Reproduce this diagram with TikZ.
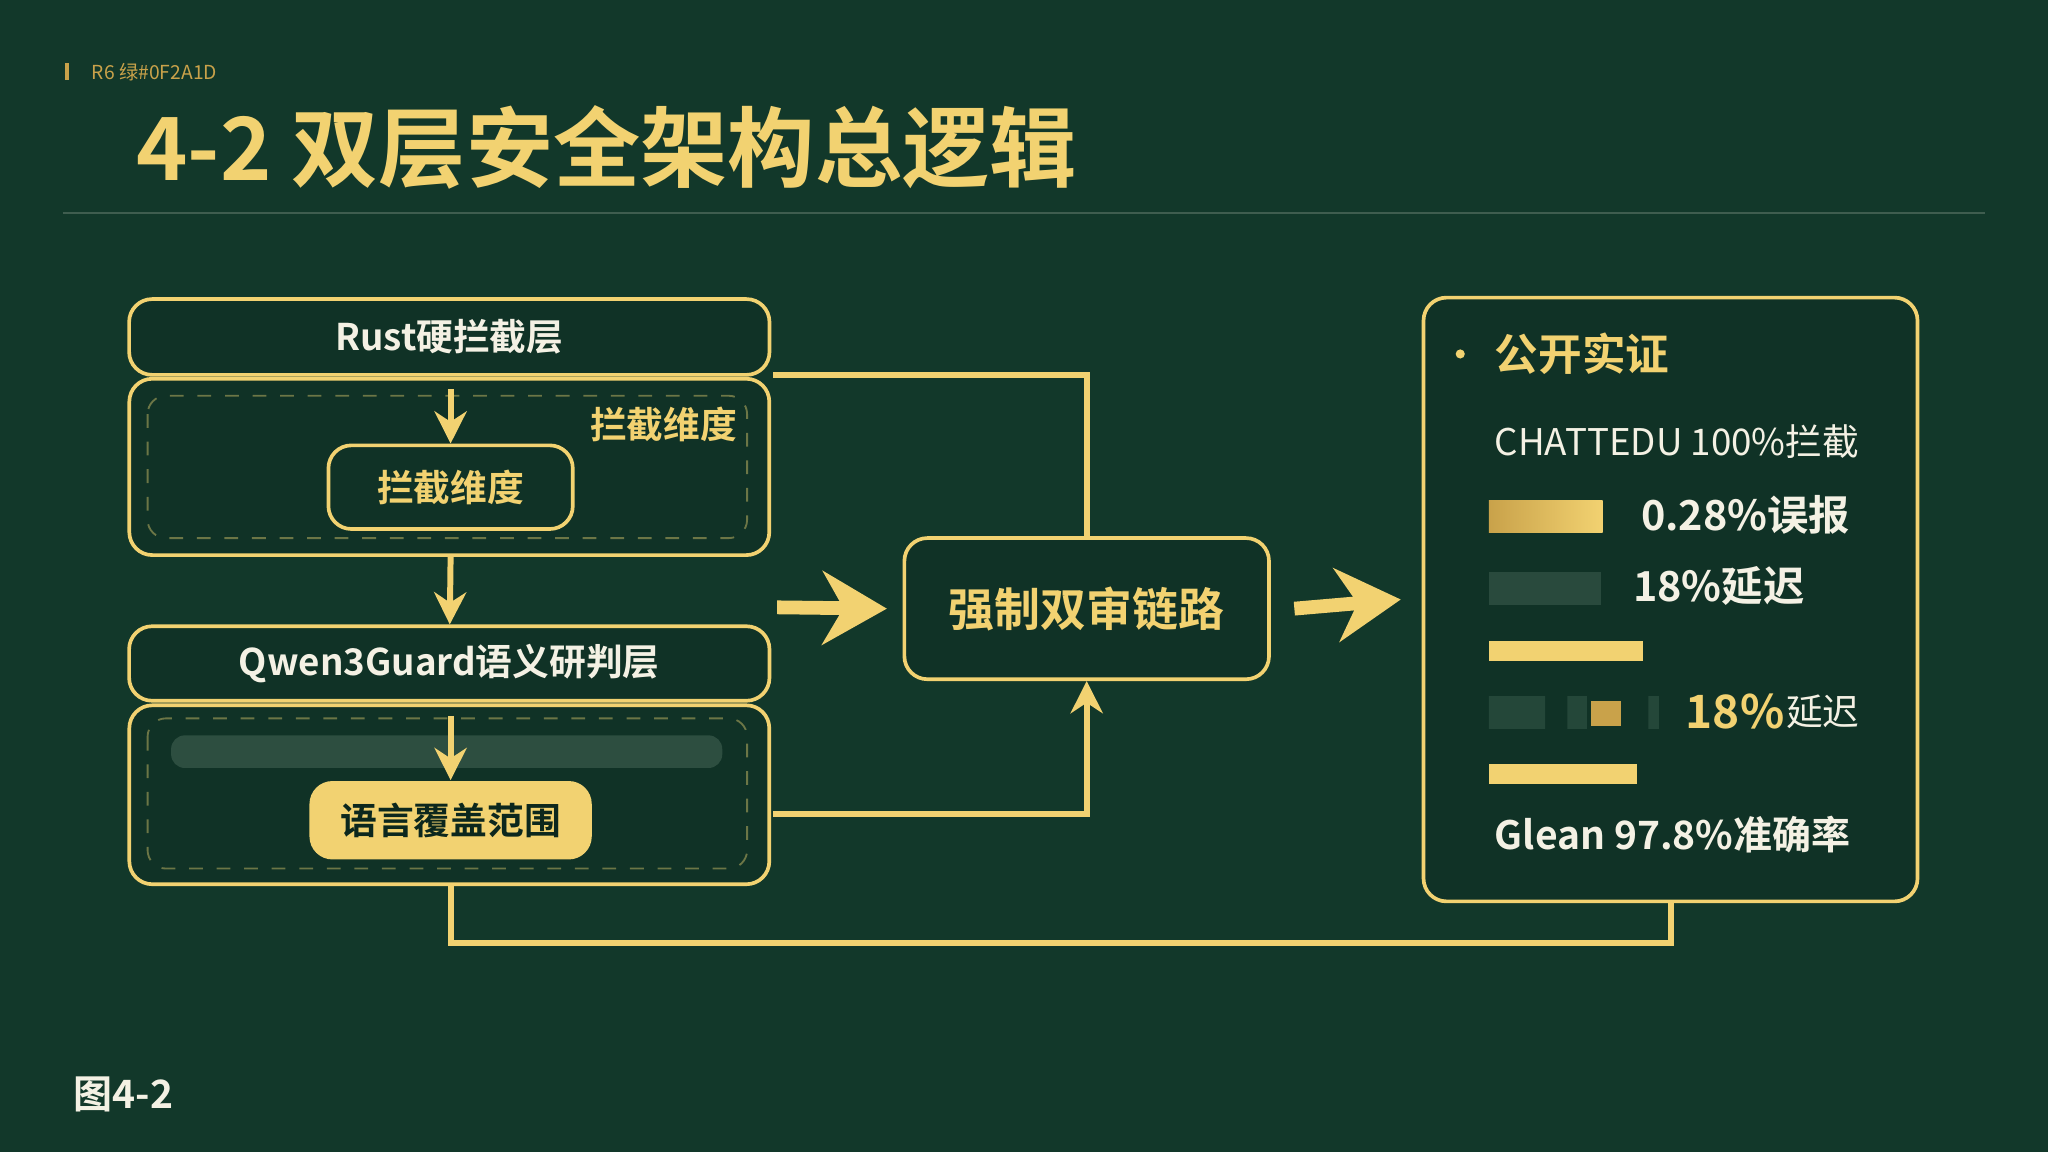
\documentclass[tikz,border=0pt]{standalone}
\usepackage{fontspec}
\setmainfont{Noto Sans CJK SC}[BoldFont={Noto Sans CJK SC Bold}]
\usetikzlibrary{arrows.meta,positioning,calc}
\definecolor{bgreen}{HTML}{12382A}
\definecolor{gold}{HTML}{F2D271}
\definecolor{dgold}{HTML}{C9A24A}
\definecolor{ink}{HTML}{F4F1E4}
\begin{document}
\begin{tikzpicture}[x=0.01cm,y=-0.01cm,
    layer/.style={draw=gold,line width=0.8pt,rounded corners=5pt,fill=bgreen!90!black,inner sep=0pt},
    lbl/.style={font=\bfseries\fontsize{8}{9}\selectfont,text=ink},
    flow/.style={draw=gold,line width=1.3pt},
    arr/.style={flow,-{Stealth[length=7pt,width=7pt]}},
    big/.style={flow,line width=3pt,-{Stealth[length=14pt,width=16pt]}}]
\useasboundingbox (0,0) rectangle (1568,882);
\fill[bgreen] (0,0) rectangle (1568,882);
% header
\fill[dgold] (50,48) rectangle (53,61);
\node[anchor=west,text=dgold,font=\fontsize{4.2}{5}\selectfont] (tag) at (58,55) {R6 绿\#0F2A1D};
\node[anchor=west,text=gold,font=\bfseries\fontsize{19}{22}\selectfont] (title) at (92,113) {4-2 双层安全架构总逻辑};
\draw[ink!20!bgreen,line width=0.5pt] (48,163) -- (1520,163);
% left stack
\node[layer,minimum width=4.9cm,minimum height=0.58cm,lbl] (rust) at (344,258) {Rust硬拦截层};
\draw[layer] (99,290) rectangle (589,425);
\draw[gold!40!bgreen,dashed,rounded corners=4pt] (113,303) rectangle (572,412);
\node[lbl,text=gold] (dimtag) at (508,325) {拦截维度};
\node[layer,minimum width=1.87cm,minimum height=0.64cm,lbl,text=gold] (dim) at (345,373) {拦截维度};
\coordinate (dimin) at (345,298);
\draw[arr] (dimin) -- (dim);
\node[layer,minimum width=4.9cm,minimum height=0.57cm,lbl] (qwen) at (344,508) {Qwen3Guard语义研判层};
\draw[arr] (345,426) -- (qwen);
\draw[layer] (99,540) rectangle (589,677);
\draw[gold!40!bgreen,dashed,rounded corners=4pt] (113,550) rectangle (572,665);
\fill[ink!12!bgreen,rounded corners=3pt] (131,563) rectangle (553,588);
\node[draw=none,fill=gold,rounded corners=5pt,minimum width=2.16cm,minimum height=0.6cm,inner sep=0pt,lbl,text=bgreen!70!black] (lang) at (345,628) {语言覆盖范围};
\coordinate (langin) at (345,548);
\draw[arr] (langin) -- (lang);
% center
\node[layer,minimum width=2.79cm,minimum height=1.08cm,font=\bfseries\fontsize{10}{12}\selectfont,text=gold] (dual) at (832,466) {强制双审链路};
\coordinate (rustout) at (592,287);
\coordinate (langout) at (592,623);
\draw[flow] (rustout) -| (dual.north);
\draw[arr] (langout) -| (dual.south);
\coordinate (bigin) at (595,465);
\draw[big] (bigin) -- ([xshift=-0.12cm]dual.west);
% right panel
\node[layer,minimum width=3.78cm,minimum height=4.62cm] (proof) at (1279,459) {};
\draw[big] ([xshift=0.18cm]dual.east) -- ([xshift=-0.16cm]proof.west);
\fill[gold] (1118,271) circle (3.5);
\node[anchor=west,text=gold,font=\bfseries\fontsize{9.5}{11}\selectfont] (ph) at (1132,271) {公开实证};
\node[anchor=west,lbl,font=\fontsize{8}{9}\selectfont] (p1) at (1132,338) {CHATTEDU 100\%拦截};
\shade[left color=dgold,right color=gold] (1140,383) rectangle (1227,408);
\node[anchor=west,lbl,font=\bfseries\fontsize{9}{10}\selectfont] (p2) at (1244,394) {0.28\%误报};
\fill[ink!10!bgreen] (1140,438) rectangle (1226,463);
\node[anchor=west,lbl,font=\bfseries\fontsize{9}{10}\selectfont] (p3) at (1238,449) {18\%延迟};
\fill[gold] (1140,491) rectangle (1258,506);
\fill[ink!8!bgreen] (1140,533) rectangle (1183,558) (1200,533) rectangle (1215,558) (1262,533) rectangle (1270,558);
\fill[dgold] (1218,537) rectangle (1241,556);
\node[anchor=west,text=gold,font=\bfseries\fontsize{10}{11}\selectfont,inner sep=0pt] (p4a) at (1290,545) {18\%};
\node[anchor=west,lbl,font=\fontsize{8}{9}\selectfont,inner sep=0pt] (p4) at (p4a.east) {延迟};
\fill[gold] (1140,585) rectangle (1253,600);
\node[anchor=west,lbl,font=\bfseries\fontsize{8.5}{10}\selectfont] (p5) at (1132,639) {Glean 97.8\%准确率};
% feedback loop
\coordinate (loopa) at (345,722);
\draw[flow] (345,677) -- (loopa) -| (proof.south);
\node[anchor=west,text=ink,font=\bfseries\fontsize{8.5}{10}\selectfont] (fig) at (44,838) {图4-2};
\end{tikzpicture}
\end{document}
